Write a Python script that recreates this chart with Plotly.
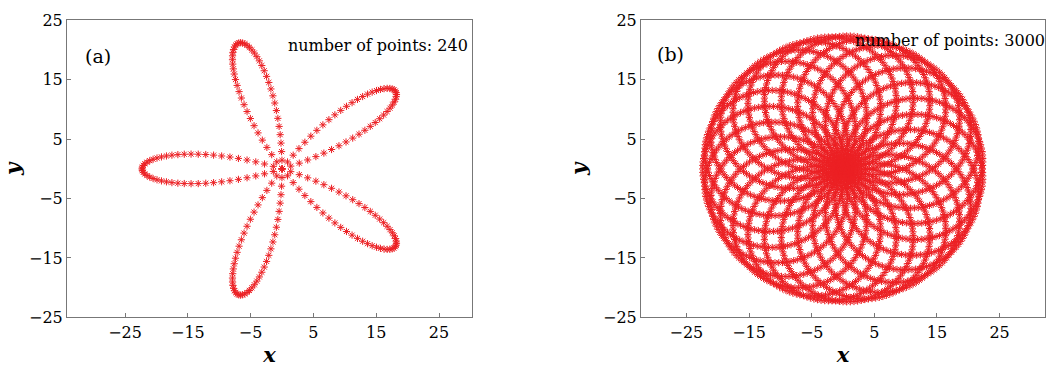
import numpy as np
import plotly.graph_objects as go

# ---- data ----
panel_labels = ["(a)", "(b)"]
point_counts = [240, 3000]            # number of sampled points per panel
arm_lengths = [11.15, 11.2]           # length of each of the two rotating vectors
speed_fast = [3, 26]                  # angular speed of first vector
speed_slow = [2, 1]                   # angular speed of the counter-rotating vector
x_ranges = [[-34.25, 30.25], [-32.25, 32.25]]
y_range = [-25, 25]
tick_vals = [-25, -15, -5, 5, 15, 25]


def pattern(n, r, w1, w2):
    t = np.linspace(0, 2 * np.pi, n, endpoint=False)
    z = -(r * np.exp(1j * w1 * t) + r * np.exp(-1j * w2 * t))
    return z.real, z.imag


RED = "rgb(236,32,36)"
FONT = "DejaVu Serif"
W, H = 1048, 372

x_domains = [[67 / W, 472 / W], [641 / W, 1045 / W]]
y_domain = [(H - 325) / H, (H - 12) / H]

fig = go.Figure()
for i in range(2):
    x, y = pattern(point_counts[i], arm_lengths[i], speed_fast[i], speed_slow[i])
    sfx = "" if i == 0 else "2"
    fig.add_trace(go.Scatter(
        x=x, y=y, mode="markers",
        marker=dict(symbol="asterisk-open", size=6,
                    line=dict(color=RED, width=1), color=RED),
        xaxis="x" + sfx, yaxis="y" + sfx, showlegend=False,
        hoverinfo="skip"))

axis_common = dict(
    showgrid=False, zeroline=False, showline=True, linecolor="#777777",
    linewidth=1, mirror=True, ticks="inside", ticklen=4, tickcolor="#777777",
    tickvals=tick_vals, tickfont=dict(family=FONT, size=16, color="black"),
)

layout = dict(
    width=W, height=H, margin=dict(l=0, r=0, t=0, b=0),
    paper_bgcolor="white", plot_bgcolor="white",
    showlegend=False,
)
for i in range(2):
    sfx = "" if i == 0 else "2"
    layout["xaxis" + sfx] = dict(
        axis_common, domain=x_domains[i], range=x_ranges[i],
        anchor="y" + sfx,
        title=dict(text="<i><b>x</b></i>", font=dict(family=FONT, size=21, color="black"),
                   standoff=6),
    )
    layout["yaxis" + sfx] = dict(
        axis_common, domain=y_domain, range=y_range, anchor="x" + sfx,
        title=dict(text="<i><b>y</b></i>", font=dict(family=FONT, size=21, color="black"),
                   standoff=10),
    )
fig.update_layout(**layout)

fig.add_annotation(x=83 / W, y=(H - 36) / H, xref="paper", yref="paper",
                   text=panel_labels[0], showarrow=False, xanchor="left",
                   font=dict(family=FONT, size=19, color="black"))
fig.add_annotation(x=655 / W, y=(H - 34) / H, xref="paper", yref="paper",
                   text=panel_labels[1], showarrow=False, xanchor="left",
                   font=dict(family=FONT, size=19, color="black"))
fig.add_annotation(x=470 / W, y=(H - 26) / H, xref="paper", yref="paper",
                   text=f"number of points: {point_counts[0]}", showarrow=False,
                   xanchor="right", font=dict(family=FONT, size=16, color="black"))
fig.add_annotation(x=1047 / W, y=(H - 21) / H, xref="paper", yref="paper",
                   text=f"number of points: {point_counts[1]}", showarrow=False,
                   xanchor="right", font=dict(family=FONT, size=16, color="black"))

fig.write_html("out.html")
